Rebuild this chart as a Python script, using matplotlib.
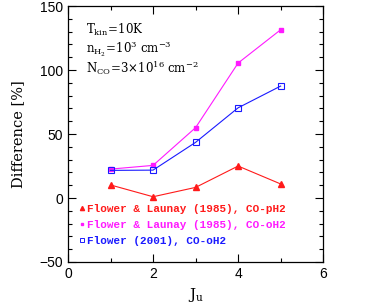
import matplotlib

matplotlib.use('Agg')
import matplotlib.pyplot as plt
from matplotlib.lines import Line2D
from matplotlib.ticker import MultipleLocator

# upper level J of the transition
j_up = [1, 2, 3, 4, 5]

# difference in percent for each collision rate set
diff_ph2_fl85 = [10.2, 1.0, 8.3, 25.0, 11.0]
diff_oh2_fl85 = [22.6, 25.5, 55.0, 105.5, 131.5]
diff_oh2_fl01 = [21.6, 21.8, 43.5, 70.5, 87.5]

labels = ['Flower & Launay (1985), CO-pH2',
          'Flower & Launay (1985), CO-oH2',
          'Flower (2001), CO-oH2']

plt.rcParams['mathtext.fontset'] = 'dejavuserif'

fig = plt.figure(figsize=(3.82, 3.05), dpi=100)
ax = fig.add_axes([0.178, 0.141, 0.668, 0.839])

# plot the three curves
ax.plot(j_up, diff_ph2_fl85, color='#ff1a1a', lw=0.8, marker='^', ms=5)
ax.plot(j_up, diff_oh2_fl85, color='#ff1aff', lw=0.8, marker='s', ms=3)
ax.plot(j_up, diff_oh2_fl01, color='#1a1aff', lw=0.8, marker='s', ms=5,
        mfc='none', mew=0.8)

# axes limits and ticks
ax.set_xlim(0, 6)
ax.set_ylim(-50, 150)
ax.xaxis.set_major_locator(MultipleLocator(2))
ax.xaxis.set_minor_locator(MultipleLocator(1))
ax.yaxis.set_major_locator(MultipleLocator(50))
ax.yaxis.set_minor_locator(MultipleLocator(10))
ax.tick_params(which='both', direction='in', top=True, right=True,
               width=0.8, labelsize=10)
ax.tick_params(which='major', length=6)
ax.tick_params(which='minor', length=3)
for lab in ax.get_xticklabels() + ax.get_yticklabels():
    lab.set_family('Liberation Sans')
for sp in ax.spines.values():
    sp.set_linewidth(0.9)

ax.set_xlabel(r'$\mathrm{J_u}$', fontsize=11, family='DejaVu Serif')
ax.set_ylabel('Difference [%]', fontsize=10.5, family='DejaVu Serif',
              labelpad=10)

# model parameters
ax.text(0.07, 0.94, r'$\mathrm{T_{kin}\!=\!10K}$', transform=ax.transAxes,
        fontsize=8.5, va='top')
ax.text(0.07, 0.868, r'$\mathrm{n_{H_2}\!=\!10^3\ cm^{-3}}$', transform=ax.transAxes,
        fontsize=8.5, va='top')
ax.text(0.07, 0.795, r'$\mathrm{N_{CO}\!=\!3{\times}10^{16}\ cm^{-2}}$',
        transform=ax.transAxes, fontsize=8.5, va='top')

# legend with markers only
handles = [Line2D([], [], color='#ff1a1a', ls='none', marker='^', ms=3),
           Line2D([], [], color='#ff1aff', ls='none', marker='s', ms=2),
           Line2D([], [], color='#1a1aff', ls='none', marker='s', ms=3.5,
                  mfc='none', mew=0.7)]
ax.legend(handles, labels, loc='upper left', bbox_to_anchor=(0.03, 0.245),
          frameon=False, handlelength=0.4, handletextpad=0.2, labelspacing=0.55,
          borderaxespad=0, labelcolor='linecolor',
          prop={'family': 'Liberation Mono', 'weight': 'bold', 'size': 7.9})

plt.savefig('out.png', dpi=100)
